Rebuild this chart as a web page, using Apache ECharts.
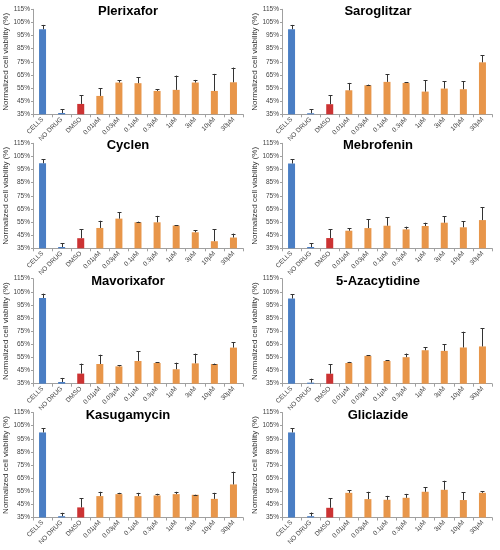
<!DOCTYPE html>
<html><head><meta charset="utf-8">
<script src="https://cdn.jsdelivr.net/npm/echarts@6/dist/echarts.min.js"></script>
<style>html,body{margin:0;padding:0;background:#fff}#c{width:500px;height:550px}</style>
</head><body><div id="c"></div>
<script>
var categories = ['CELLS','NO DRUG','DMSO','0.01µM','0.03µM','0.1µM','0.3µM','1µM','3µM','10µM','30µM'];
var yTicks = [35,45,55,65,75,85,95,105,115];
var drugs = ['Plerixafor','Saroglitzar','Cyclen','Mebrofenin','Mavorixafor','5-Azacytidine','Kasugamycin','Gliclazide'];

var plerixaforMean = [99.8,36,42.9,49,59.2,58.7,52.8,53.6,59.2,52.8,59.4];
var plerixaforTop  = [103.1,38.8,49.5,54.8,60.9,63.2,54.1,64.5,61.2,65.8,70.6];
var saroglitzarMean = [99.8,35.8,42.7,53.3,57.1,59.7,58.9,52.3,54.6,54.1,74.6];
var saroglitzarTop  = [103.1,38.8,49.5,58.9,57.6,65.5,59.4,60.9,60.2,60.2,79.9];
var cyclenMean = [99.8,36,42.7,50.5,57.6,54.8,54.8,52.3,47.2,40.4,43.2];
var cyclenTop  = [103,38.8,49.5,56,62.5,55.3,59.7,52.6,48.8,49.5,46.2];
var mebrofeninMean = [99.6,36,42.8,48.4,50.4,52.2,49.4,52,54.5,51,56.5];
var mebrofeninTop  = [103,38.8,49.7,50.2,57.3,58.5,51.5,54.5,59.6,55.8,66.1];
var mavorixaforMean = [100.3,36.3,42.7,50,48.2,52.3,50.8,46,50.5,50,62.5];
var mavorixaforTop  = [103.6,39.4,50.3,57.1,49,59.7,51.5,51,57.9,50.3,66.5];
var azacytidineMean = [99.9,35.8,42.6,50.8,56.2,52.3,55.2,60.5,60,62.6,63.4];
var azacytidineTop  = [103.2,38.8,50,51.6,56.7,52.9,58,62.6,64.9,74.6,77.2];
var kasugamycinMean = [99.8,36,42.7,51.3,52.8,51.3,51.8,52.8,52.3,49.2,60.2];
var kasugamycinTop  = [103.1,38.6,49.5,54.6,53.8,53.8,53.1,54.6,52.5,53.8,69.9];
var gliclazideMean = [99.8,36,42.4,53.8,49,48.5,50,54.6,56.1,48.3,53.8];
var gliclazideTop  = [103,38.8,49.5,55.6,54.6,51.5,53,58.1,63,54.1,55.1];

var means = [plerixaforMean,saroglitzarMean,cyclenMean,mebrofeninMean,mavorixaforMean,azacytidineMean,kasugamycinMean,gliclazideMean];
var tops = [plerixaforTop,saroglitzarTop,cyclenTop,mebrofeninTop,mavorixaforTop,azacytidineTop,kasugamycinTop,gliclazideTop];

var colBlue = '#4a7ec4', colRed = '#cc3333', colOrange = '#e8964a';
var rowTops = [9.3,143.3,278.7,412.5];
var colLefts = [33,282];
var titleX = [128,378];
var gridW = 210, gridH = 105;
var font = 'Liberation Sans, Arial, sans-serif';

var grids=[],xAxes=[],yAxes=[],titles=[],series=[];
drugs.forEach(function(name,i){
  var r = Math.floor(i/2), c = i%2;
  grids.push({left:colLefts[c],top:rowTops[r],width:gridW,height:gridH});
  titles.push({text:name,left:titleX[c],top:rowTops[r]-4,textAlign:'center',padding:0,
    textStyle:{fontFamily:font,fontSize:13,fontWeight:'bold',color:'#000'}});
  xAxes.push({type:'category',gridIndex:i,data:categories,
    axisLine:{lineStyle:{color:'#a0a0a0',width:1}},
    axisTick:{show:true,length:3,lineStyle:{color:'#a0a0a0'}},
    axisLabel:{rotate:45,fontSize:6.5,fontFamily:font,color:'#444',margin:4,interval:0}});
  yAxes.push({type:'value',gridIndex:i,min:35,max:115,interval:10,
    name:'Normalized cell viability (%)',nameLocation:'middle',nameGap:22,
    nameTextStyle:{fontFamily:font,fontSize:8,color:'#333'},
    splitLine:{show:false},
    axisLine:{show:true,lineStyle:{color:'#a0a0a0',width:1}},
    axisTick:{show:true,length:2,lineStyle:{color:'#a0a0a0'}},
    axisLabel:{fontSize:6.5,fontFamily:font,color:'#444',margin:3,formatter:'{value}%'}});
  series.push({type:'bar',xAxisIndex:i,yAxisIndex:i,barWidth:7,silent:true,animation:false,
    data:means[i].map(function(v,k){return {value:v,itemStyle:{color:k<2?colBlue:(k===2?colRed:colOrange)}};})});
  series.push({type:'custom',xAxisIndex:i,yAxisIndex:i,silent:true,animation:false,z:5,
    data:means[i].map(function(v,k){return [k,v,tops[i][k]];}),
    renderItem:function(params,api){
      var p0=api.coord([api.value(0),api.value(1)]);
      var p1=api.coord([api.value(0),api.value(2)]);
      var x=Math.round(p0[0])+0.5;
      return {type:'group',children:[
        {type:'line',shape:{x1:x,y1:p0[1],x2:x,y2:p1[1]},style:{stroke:'#333',lineWidth:1}},
        {type:'line',shape:{x1:x-2,y1:Math.round(p1[1])+0.5,x2:x+2,y2:Math.round(p1[1])+0.5},style:{stroke:'#333',lineWidth:1}}
      ]};
    }});
});
var chart = echarts.init(document.getElementById('c'));
chart.setOption({animation:false,title:titles,grid:grids,xAxis:xAxes,yAxis:yAxes,series:series});
</script></body></html>
